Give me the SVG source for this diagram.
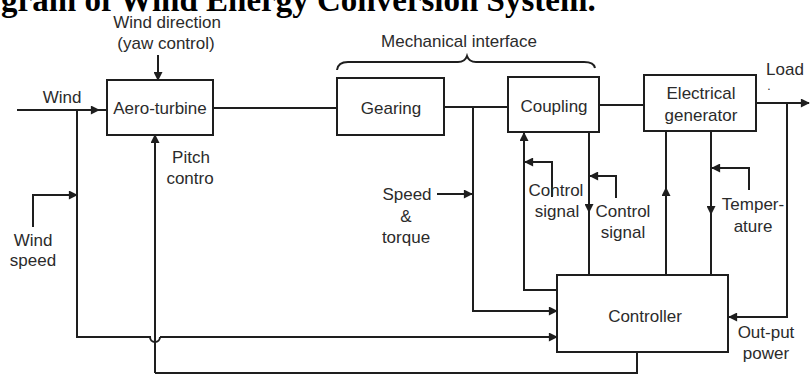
<svg xmlns="http://www.w3.org/2000/svg" width="810" height="376" viewBox="0 0 810 376">
<style>
.t{font-family:"Liberation Sans",Arial,sans-serif;font-size:17px;fill:#2b2b2b;text-anchor:middle}
.title{font-family:"Liberation Serif","Times New Roman",serif;font-size:33px;font-weight:bold;fill:#000}
.box{fill:#fff;stroke:#1e1e1e;stroke-width:2}
.ln{fill:none;stroke:#1e1e1e;stroke-width:2}
.la{fill:none;stroke:#1e1e1e;stroke-width:2;marker-end:url(#arr)}
</style>
<defs>
<marker id="arr" viewBox="0 0 10 10" refX="9" refY="5" markerWidth="11" markerHeight="9" markerUnits="userSpaceOnUse" orient="auto">
<path d="M0,0 L10,5 L0,10 z" fill="#1e1e1e"/>
</marker>
</defs>
<rect width="810" height="376" fill="#fff"/>
<text class="title" x="1" y="11">gram of Wind Energy Conversion System.</text>

<g id="connectors">
<path class="la" d="M17,110 H99"/>
<path class="ln" d="M99,110 H107"/>
<path class="la" d="M158,55 V80"/>
<path class="ln" d="M77,110 V337 H150 a5,5 0 0 0 10,0"/>
<path class="la" d="M160,337 H557"/>
<path class="la" d="M33,227 V195 H77"/>
<path class="la" d="M155,373 V135"/>
<path class="ln" d="M155,373 H637 V352"/>
<path class="ln" d="M213,108 H337"/>
<path class="ln" d="M444,107 H508"/>
<path class="la" d="M473,107 V311 H557"/>
<path class="la" d="M437,194 H472"/>
<path class="la" d="M557,290 H524 V133"/>
<path class="la" d="M552,197 V162 H525"/>
<path class="ln" d="M589,132 V275"/>
<path class="la" d="M589,200 V212"/>
<path class="la" d="M616,198 V176 H590"/>
<path class="ln" d="M599,105 H644"/>
<path class="la" d="M756,103 H809"/>
<path class="la" d="M787,103 V317 H729"/>
<path class="ln" d="M666,275 V131"/>
<path class="la" d="M666,200 V188"/>
<path class="ln" d="M711,131 V275"/>
<path class="la" d="M711,202 V214"/>
<path class="la" d="M749,190 V168 H712"/>
<path class="ln" d="M337,70 Q338,62 348,62 H458 Q465,62 467,56 Q469,62 476,62 H584 Q594,62 595,68"/>
</g>

<g id="aero-turbine">
<rect class="box" x="107" y="80" width="106" height="55"/>
<text class="t" x="160" y="114">Aero-turbine</text>
</g>
<g id="gearing">
<rect class="box" x="337" y="78" width="107" height="57"/>
<text class="t" x="391" y="114">Gearing</text>
</g>
<g id="coupling">
<rect class="box" x="508" y="77" width="91" height="55"/>
<text class="t" x="554" y="112">Coupling</text>
</g>
<g id="electrical-generator">
<rect class="box" x="644" y="75" width="112" height="56"/>
<text class="t" x="701" y="99">Electrical</text>
<text class="t" x="701" y="121">generator</text>
</g>
<g id="controller">
<rect class="box" x="557" y="275" width="171" height="77"/>
<text class="t" x="645" y="322">Controller</text>
</g>

<g id="labels">
<text class="t" x="167" y="28">Wind direction</text>
<text class="t" x="166" y="49">(yaw control)</text>
<text class="t" x="62" y="103">Wind</text>
<text class="t" x="459" y="47">Mechanical interface</text>
<text class="t" x="785" y="75">Load</text>
<text class="t" x="769" y="90" style="font-size:12px">.</text>
<text class="t" x="191" y="163">Pitch</text>
<text class="t" x="190" y="184">contro</text>
<text class="t" x="33" y="246">Wind</text>
<text class="t" x="33" y="266">speed</text>
<text class="t" x="407" y="200">Speed</text>
<text class="t" x="406" y="222">&amp;</text>
<text class="t" x="406" y="243">torque</text>
<text class="t" x="556" y="196">Control</text>
<text class="t" x="557" y="217">signal</text>
<text class="t" x="623" y="217">Control</text>
<text class="t" x="623" y="238">signal</text>
<text class="t" x="753" y="210">Temper-</text>
<text class="t" x="753" y="232">ature</text>
<text class="t" x="766" y="338">Out-put</text>
<text class="t" x="766" y="359">power</text>
</g>
</svg>
